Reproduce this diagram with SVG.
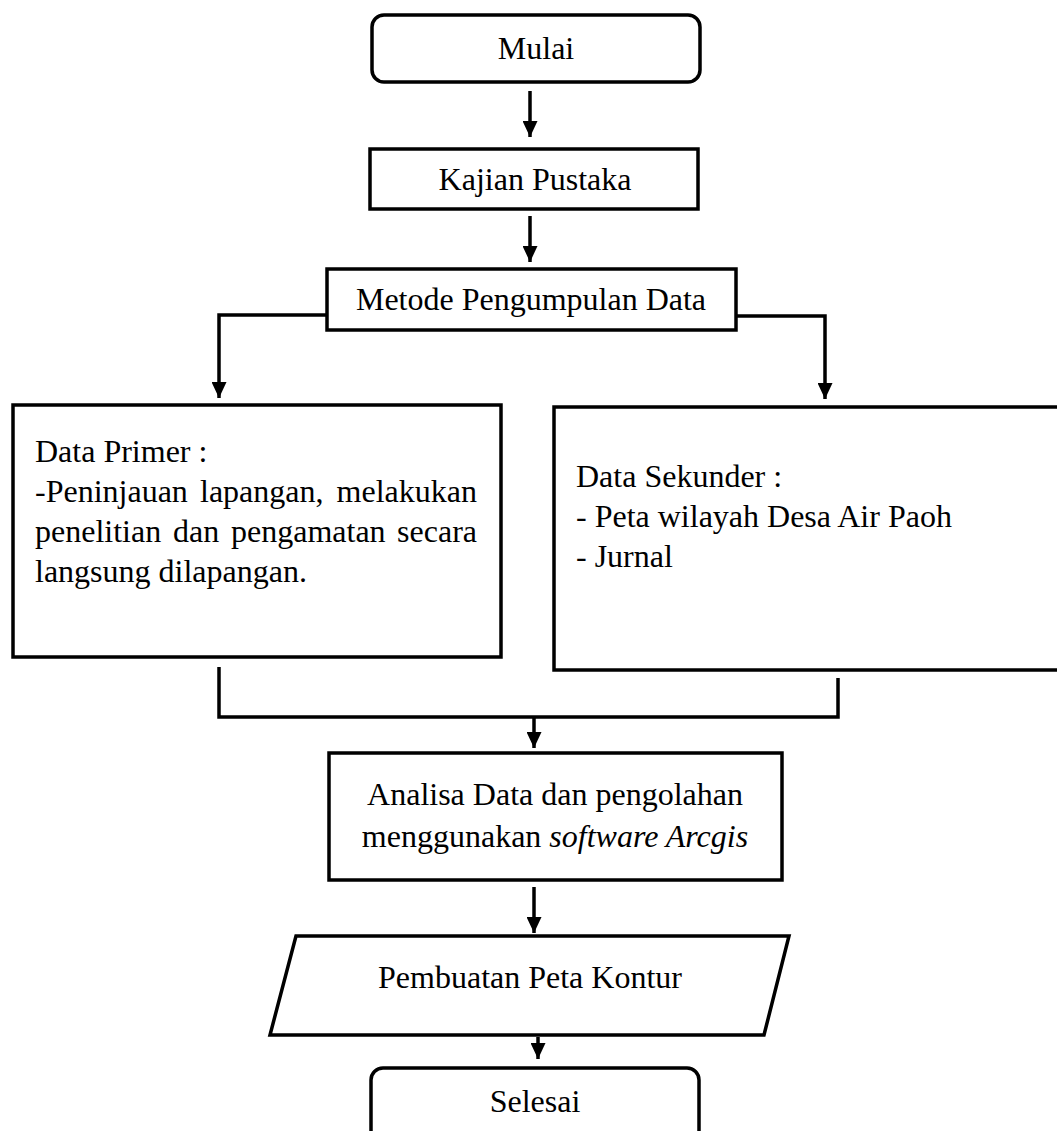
<svg xmlns="http://www.w3.org/2000/svg" width="1057" height="1131" viewBox="0 0 1057 1131">
<style>
.box{fill:#fff;stroke:#000;stroke-width:3.5}
.t{font-family:"Liberation Serif","Times New Roman",serif;font-size:32px;fill:#000}
.c{text-anchor:middle}
.e{text-anchor:end}
.ln{fill:none;stroke:#000;stroke-width:3.5}
</style>
<defs>
<marker id="ah" markerUnits="userSpaceOnUse" markerWidth="16" markerHeight="15" viewBox="0 0 16 15" refX="16" refY="7.5" orient="auto">
<path d="M0,0 L16,7.5 L0,15 Z" fill="#000"/>
</marker>
</defs>
<rect width="1057" height="1131" fill="#fff"/>
<g id="connectors">
<path class="ln" d="M530,91 V137" marker-end="url(#ah)"/>
<path class="ln" d="M530,216 V262" marker-end="url(#ah)"/>
<path class="ln" d="M327,315 H219 V398" marker-end="url(#ah)"/>
<path class="ln" d="M736,316 H825 V399" marker-end="url(#ah)"/>
<path class="ln" d="M219,667 V717 H838 V678"/>
<path class="ln" d="M534,717 V748" marker-end="url(#ah)"/>
<path class="ln" d="M534,887 V933" marker-end="url(#ah)"/>
<path class="ln" d="M538,1037 V1059" marker-end="url(#ah)"/>
</g>
<g id="mulai">
<rect class="box" x="372" y="15" width="328" height="67" rx="12"/>
<text class="t c" x="536" y="59">Mulai</text>
</g>
<g id="kajian">
<rect class="box" x="370" y="149" width="328" height="60"/>
<text class="t c" x="535" y="190">Kajian Pustaka</text>
</g>
<g id="metode">
<rect class="box" x="327" y="269" width="409" height="61"/>
<text class="t c" x="531" y="310">Metode Pengumpulan Data</text>
</g>
<g id="primer">
<rect class="box" x="13" y="405" width="488" height="252"/>
<text class="t" x="35" y="462">Data Primer :</text>
<text class="t" y="502"><tspan x="35">-Peninjauan</tspan><tspan x="200">lapangan,</tspan><tspan x="477" text-anchor="end">melakukan</tspan></text>
<text class="t" y="542"><tspan x="35">penelitian</tspan><tspan x="173">dan</tspan><tspan x="231">pengamatan</tspan><tspan x="477" text-anchor="end">secara</tspan></text>
<text class="t" x="35" y="582">langsung dilapangan.</text>
</g>
<g id="sekunder">
<rect class="box" x="554" y="407" width="520" height="263"/>
<text class="t" x="576" y="487">Data Sekunder :</text>
<text class="t" x="576" y="527">- Peta wilayah Desa Air Paoh</text>
<text class="t" x="576" y="567">- Jurnal</text>
</g>
<g id="analisa">
<rect class="box" x="329" y="753" width="453" height="127"/>
<text class="t c" x="555" y="805">Analisa Data dan pengolahan</text>
<text class="t c" x="555" y="847">menggunakan <tspan font-style="italic">software Arcgis</tspan></text>
</g>
<g id="pembuatan">
<polygon class="box" points="296,936 789,936 764,1035 270,1035"/>
<text class="t c" x="530" y="988">Pembuatan Peta Kontur</text>
</g>
<g id="selesai">
<rect class="box" x="371" y="1068" width="328" height="75" rx="12"/>
<text class="t c" x="535" y="1112">Selesai</text>
</g>
</svg>
